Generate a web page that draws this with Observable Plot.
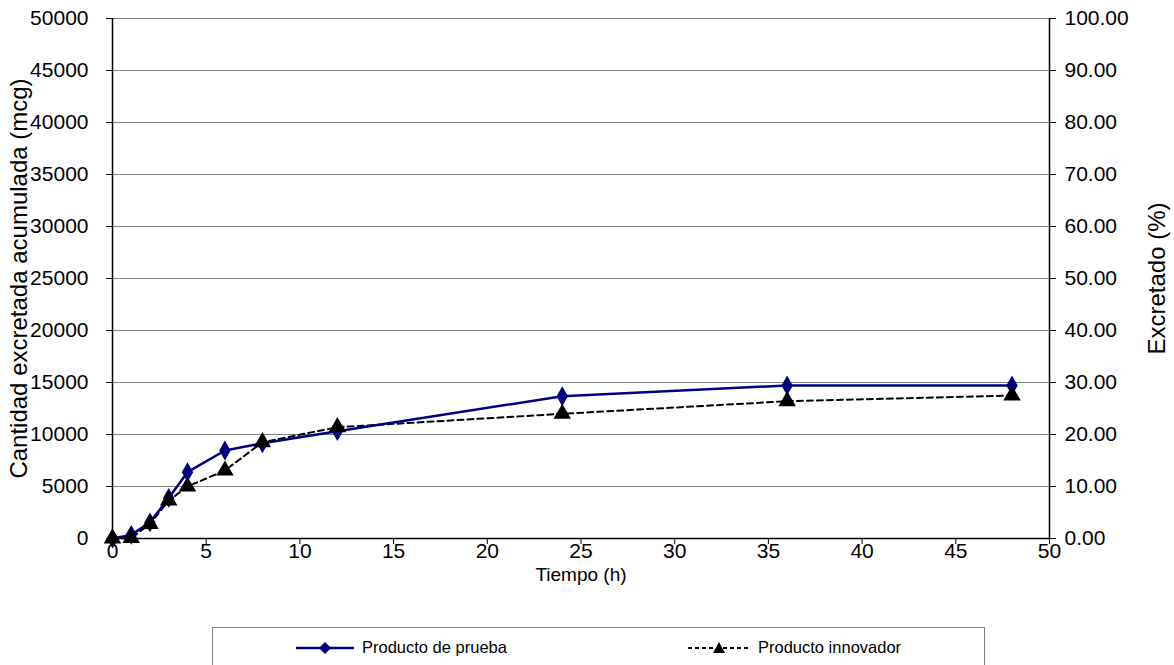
<!DOCTYPE html>
<html>
<head>
<meta charset="utf-8">
<script src="https://cdn.jsdelivr.net/npm/d3@7"></script>
<script src="https://cdn.jsdelivr.net/npm/@observablehq/plot@0.6"></script>
<style>
  body { margin: 0; background: #fff; font-family: "Liberation Sans", Arial, sans-serif; }
  #chart { position: relative; width: 1174px; height: 665px; overflow: hidden; }
  #legend {
    position: absolute; left: 212px; top: 627px; width: 773px; height: 50px;
    border: 1px solid #808080; box-sizing: border-box; font-size: 16.5px; color: #000;
  }
  .item { position: absolute; top: 10px; display: flex; align-items: center; white-space: nowrap; }
  .item svg { margin-right: 8px; }
</style>
</head>
<body>
<div id="chart"></div>
<script>
// Tiempo de muestreo (h)
const tiempo = [0, 1, 2, 3, 4, 6, 8, 12, 24, 36, 48];
// Cantidad excretada acumulada (mcg)
const prueba = [0, 350, 1550, 3900, 6380, 8460, 9160, 10320, 13680, 14710, 14710];
const innovador = [0, 50, 1400, 3650, 5000, 6540, 9260, 10700, 11990, 13200, 13750];
const serieNombres = ["Producto de prueba", "Producto innovador"];
const xTicks = [0, 5, 10, 15, 20, 25, 30, 35, 40, 45, 50];
const yTicks = [0, 5000, 10000, 15000, 20000, 25000, 30000, 35000, 40000, 45000, 50000];
// Escala derecha: 50000 mcg = 100 %
const dosisTotal = 50000;

const rowsPrueba = tiempo.map((t, i) => ({t, v: prueba[i]}));
const rowsInnovador = tiempo.map((t, i) => ({t, v: innovador[i]}));

const navy = "#000080";

const plot = Plot.plot({
  width: 1174,
  height: 620,
  marginTop: 18,
  marginBottom: 82,
  marginLeft: 112,
  marginRight: 125,
  style: {fontSize: "21px", fontFamily: "'Liberation Sans', Arial, sans-serif", color: "#000", background: "#fff"},
  x: {domain: [0, 50]},
  y: {domain: [0, 50000]},
  marks: [
    Plot.gridY(yTicks, {stroke: "#808080", strokeOpacity: 1}),
    Plot.ruleX([0, 50], {stroke: "#000", strokeWidth: 1.5}),
    Plot.ruleY([0], {stroke: "#000", strokeWidth: 1.5}),
    Plot.line(rowsInnovador, {x: "t", y: "v", stroke: "#000", strokeWidth: 2, strokeDasharray: "6,4"}),
    Plot.line(rowsPrueba, {x: "t", y: "v", stroke: navy, strokeWidth: 2.5}),
    Plot.dot(rowsPrueba, {x: "t", y: "v", symbol: "diamond", r: 6, fill: navy}),
    Plot.dot(rowsInnovador, {x: "t", y: "v", symbol: "triangle", r: 6.5, fill: "#000"}),
    Plot.axisX(xTicks, {tickSize: 6, tickPadding: -1, label: null, tickFormat: d => String(d)}),
    Plot.axisY(yTicks, {anchor: "left", tickSize: 6, tickPadding: 18, label: null, tickFormat: d => String(d)}),
    Plot.axisY(yTicks, {anchor: "right", tickSize: 6, tickPadding: 9, label: null,
      tickFormat: d => (d / dosisTotal * 100).toFixed(2)}),
    Plot.text(["Tiempo (h)"], {frameAnchor: "bottom", dy: 42, fontSize: 19}),
    Plot.text(["Cantidad excretada acumulada (mcg)"], {frameAnchor: "left", textAnchor: "middle", rotate: -90, dx: -93, fontSize: 24}),
    Plot.text(["Excretado (%)"], {frameAnchor: "right", textAnchor: "middle", rotate: -90, dx: 108, fontSize: 24})
  ]
});

const chart = document.getElementById("chart");
chart.appendChild(plot);

// Leyenda debajo del gráfico
const legend = document.createElement("div");
legend.id = "legend";
const swatchPrueba = `<svg width="58" height="14"><line x1="0" y1="7" x2="58" y2="7" stroke="${navy}" stroke-width="2.5"/><path d="M29,1 L35,7 L29,13 L23,7 Z" fill="${navy}"/></svg>`;
const swatchInnovador = `<svg width="62" height="14"><line x1="0" y1="7" x2="62" y2="7" stroke="#000" stroke-width="2" stroke-dasharray="4,3"/><path d="M31,1 L37,12 L25,12 Z" fill="#000"/></svg>`;
legend.innerHTML =
  `<div class="item" style="left:83px">${swatchPrueba}<span>${serieNombres[0]}</span></div>` +
  `<div class="item" style="left:475px">${swatchInnovador}<span>${serieNombres[1]}</span></div>`;
chart.appendChild(legend);
</script>
</body>
</html>
